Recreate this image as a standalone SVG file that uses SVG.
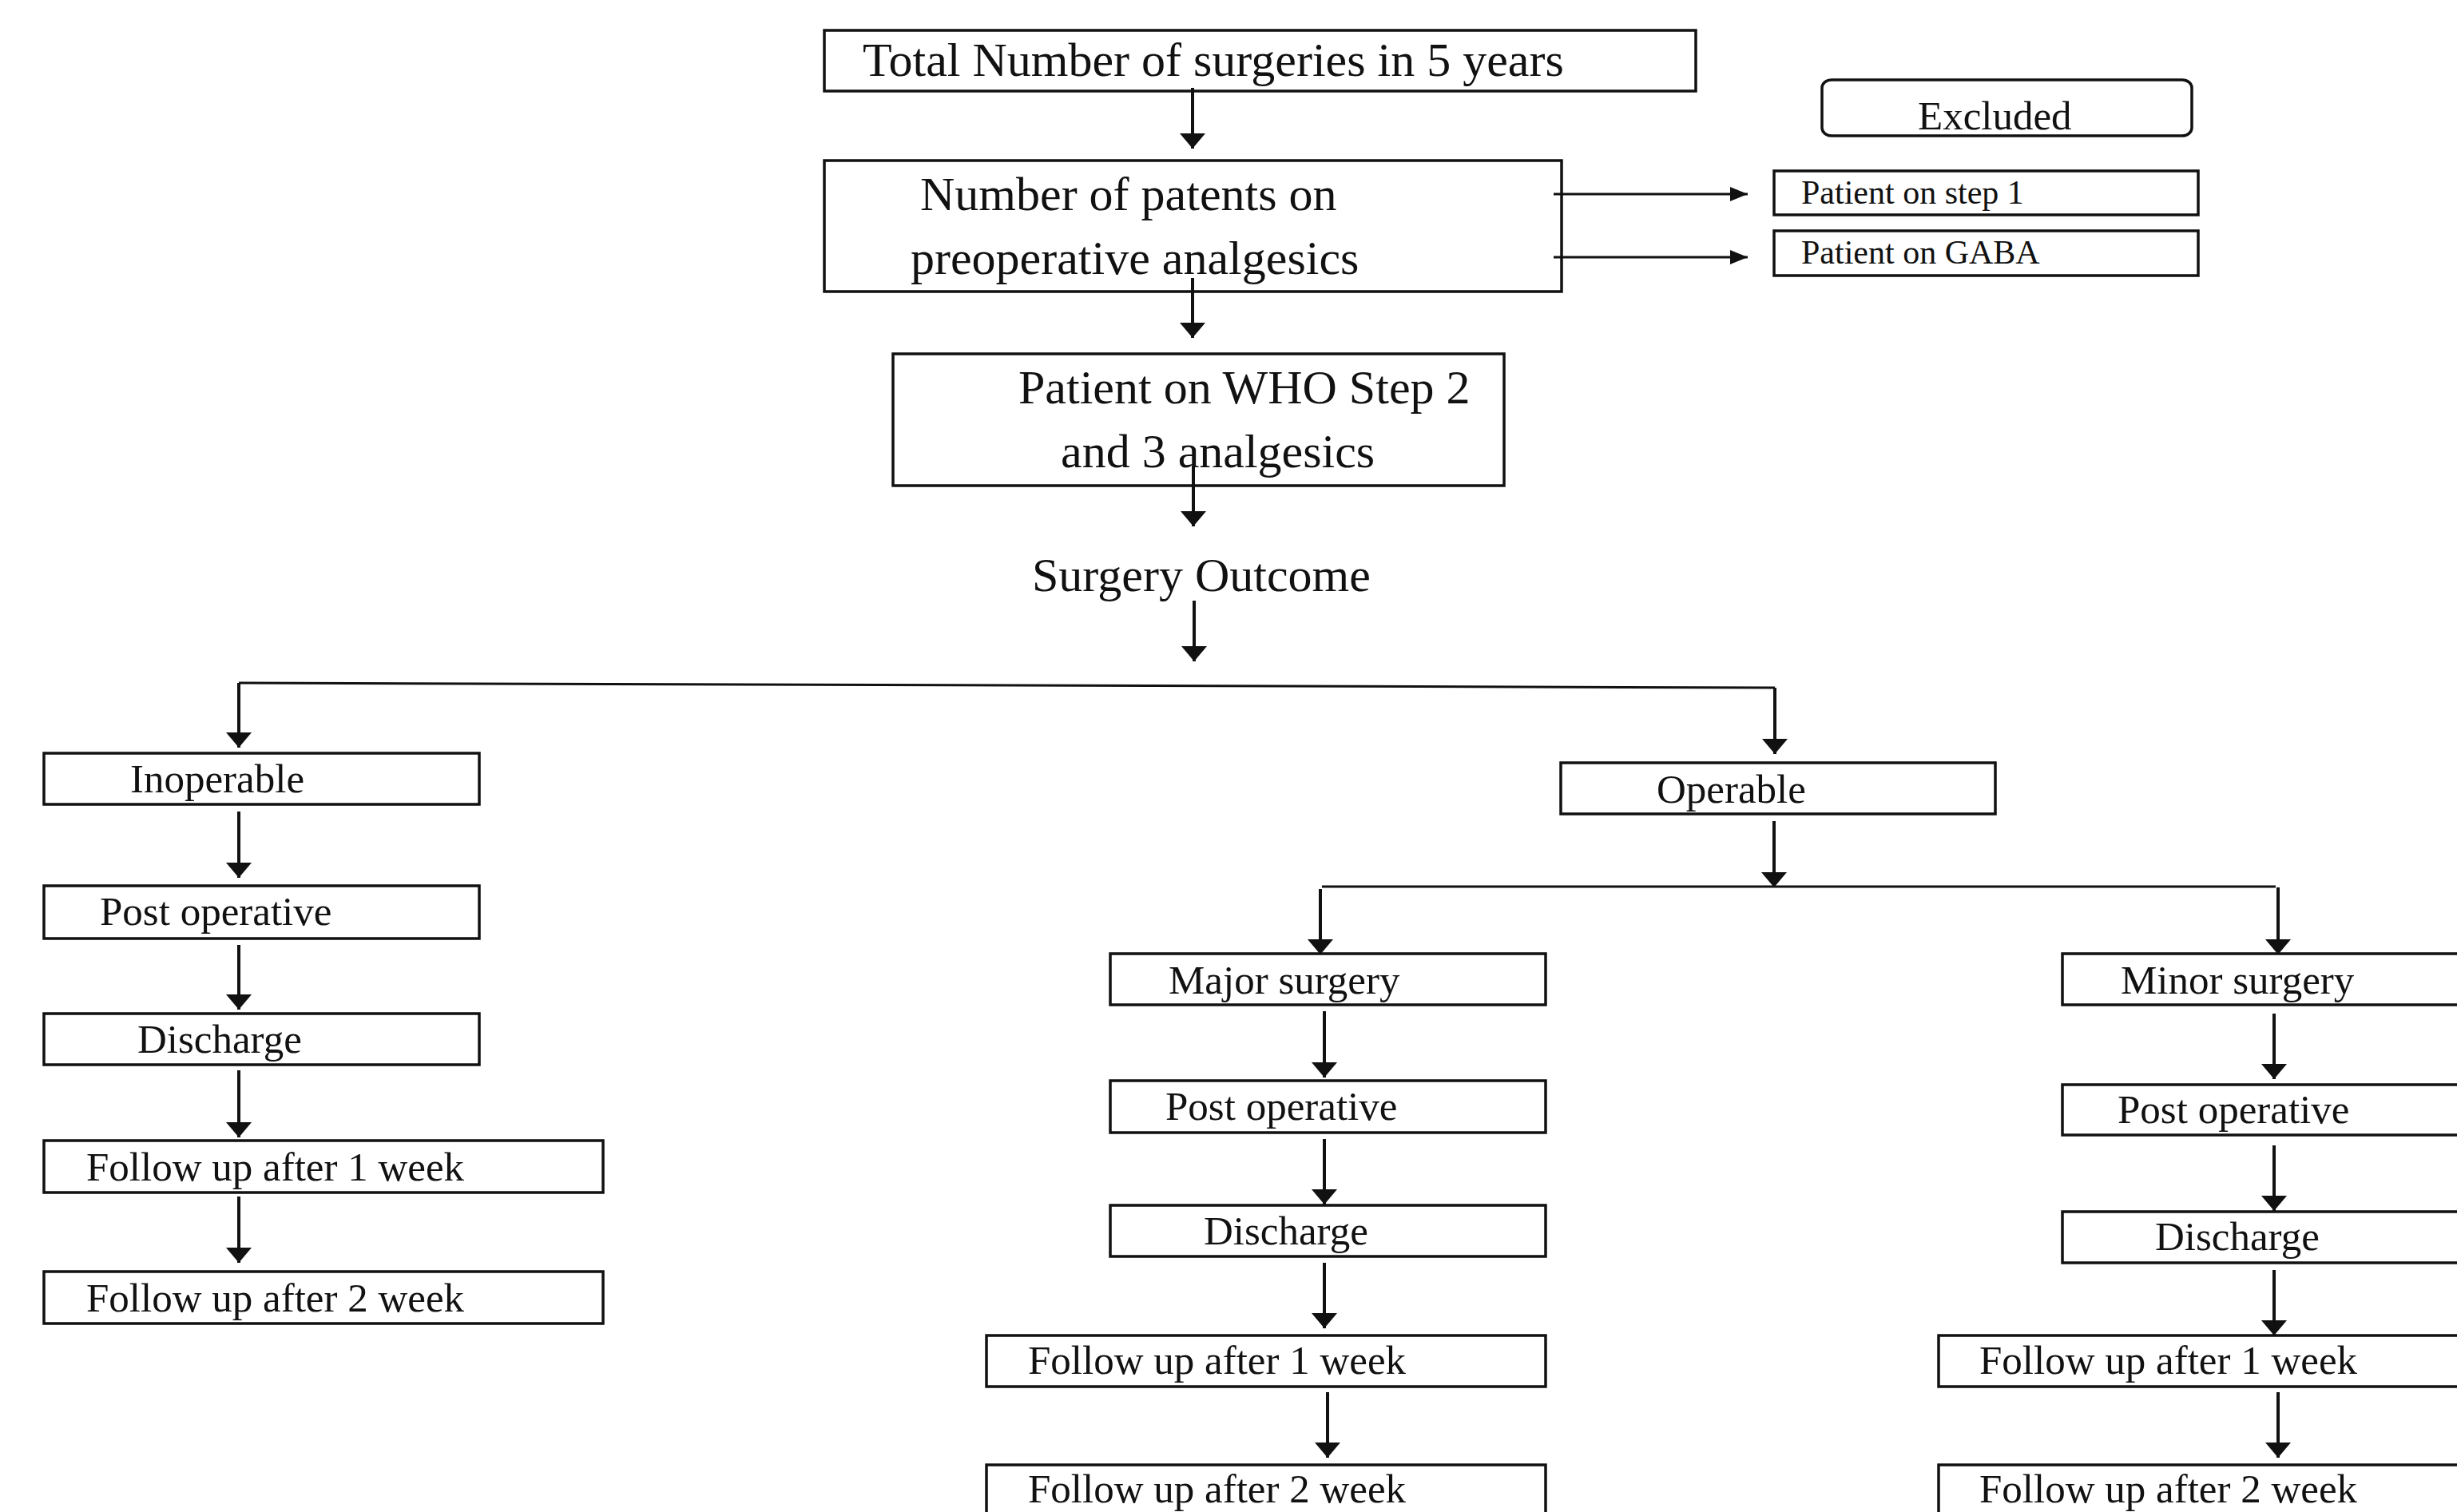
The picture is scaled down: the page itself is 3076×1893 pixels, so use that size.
<svg xmlns="http://www.w3.org/2000/svg" width="3076" height="1893" viewBox="0 0 3076 1893">
<style>
.box{fill:#fff;stroke:#111;stroke-width:3.5}
.t{font-family:"Liberation Serif","Times New Roman",serif;fill:#111}
.big{font-size:60px}
.mid{font-size:51px}
.sm{font-size:42px}
.c{fill:none;stroke:#111;stroke-width:4}
.cs{fill:none;stroke:#111;stroke-width:3}
</style>
<defs>
<marker id="ah" markerUnits="userSpaceOnUse" viewBox="0 0 19 32" refX="19" refY="16" markerWidth="19" markerHeight="32" orient="auto">
<path d="M0,0 L19,16 L0,32 Z" fill="#111"/>
</marker>
<marker id="ahs" markerUnits="userSpaceOnUse" viewBox="0 0 22 18" refX="22" refY="9" markerWidth="22" markerHeight="18" orient="auto">
<path d="M0,0 L22,9 L0,18 Z" fill="#111"/>
</marker>
</defs>
<rect width="3076" height="1893" fill="#fff"/>

<g id="n-total"><rect class="box" x="1032" y="38" width="1091" height="76"/><text class="t big" x="1080" y="95">Total Number of surgeries in 5 years</text></g>
<g id="n-preop"><rect class="box" x="1032" y="201" width="923" height="164"/><text class="t big" x="1152" y="263">Number of patents on</text><text class="t big" x="1140" y="343">preoperative analgesics</text></g>
<g id="n-excluded"><rect class="box" x="2281" y="100" width="463" height="70" rx="12" ry="10"/><text class="t mid" x="2401" y="162">Excluded</text></g>
<g id="n-step1"><rect class="box" x="2221" y="214" width="531" height="55"/><text class="t sm" x="2255" y="255">Patient on step 1</text></g>
<g id="n-gaba"><rect class="box" x="2221" y="289" width="531" height="56"/><text class="t sm" x="2255" y="330">Patient on GABA</text></g>
<g id="n-who"><rect class="box" x="1118" y="443" width="765" height="165"/><text class="t big" x="1275" y="505">Patient on WHO Step 2</text><text class="t big" x="1328" y="585">and 3 analgesics</text></g>
<g id="n-outcome"><text class="t big" x="1292" y="740">Surgery Outcome</text></g>

<g id="n-inoperable"><rect class="box" x="55" y="943" width="545" height="64"/><text class="t mid" x="163" y="992">Inoperable</text></g>
<g id="n-l-postop"><rect class="box" x="55" y="1109" width="545" height="66"/><text class="t mid" x="125" y="1158">Post operative</text></g>
<g id="n-l-discharge"><rect class="box" x="55" y="1269" width="545" height="64"/><text class="t mid" x="172" y="1318">Discharge</text></g>
<g id="n-l-fu1"><rect class="box" x="55" y="1428" width="700" height="65"/><text class="t mid" x="108" y="1478">Follow up after 1 week</text></g>
<g id="n-l-fu2"><rect class="box" x="55" y="1592" width="700" height="65"/><text class="t mid" x="108" y="1642">Follow up after 2 week</text></g>

<g id="n-operable"><rect class="box" x="1954" y="955" width="544" height="64"/><text class="t mid" x="2074" y="1005">Operable</text></g>

<g id="n-major"><rect class="box" x="1390" y="1194" width="545" height="64"/><text class="t mid" x="1463" y="1244">Major surgery</text></g>
<g id="n-m-postop"><rect class="box" x="1390" y="1353" width="545" height="65"/><text class="t mid" x="1459" y="1402">Post operative</text></g>
<g id="n-m-discharge"><rect class="box" x="1390" y="1509" width="545" height="64"/><text class="t mid" x="1507" y="1558">Discharge</text></g>
<g id="n-m-fu1"><rect class="box" x="1235" y="1672" width="700" height="64"/><text class="t mid" x="1287" y="1720">Follow up after 1 week</text></g>
<g id="n-m-fu2"><rect class="box" x="1235" y="1834" width="700" height="70"/><text class="t mid" x="1287" y="1881">Follow up after 2 week</text></g>

<g id="n-minor"><rect class="box" x="2582" y="1194" width="510" height="64"/><text class="t mid" x="2655" y="1244">Minor surgery</text></g>
<g id="n-r-postop"><rect class="box" x="2582" y="1358" width="510" height="63"/><text class="t mid" x="2651" y="1406">Post operative</text></g>
<g id="n-r-discharge"><rect class="box" x="2582" y="1517" width="510" height="64"/><text class="t mid" x="2698" y="1565">Discharge</text></g>
<g id="n-r-fu1"><rect class="box" x="2427" y="1672" width="665" height="64"/><text class="t mid" x="2478" y="1720">Follow up after 1 week</text></g>
<g id="n-r-fu2"><rect class="box" x="2427" y="1834" width="665" height="70"/><text class="t mid" x="2478" y="1881">Follow up after 2 week</text></g>

<g id="connectors">
<line class="c" x1="1493" y1="110" x2="1493" y2="186" marker-end="url(#ah)"/>
<line class="c" x1="1493" y1="348" x2="1493" y2="423" marker-end="url(#ah)"/>
<line class="c" x1="1494" y1="583" x2="1494" y2="659" marker-end="url(#ah)"/>
<line class="c" x1="1495" y1="752" x2="1495" y2="828" marker-end="url(#ah)"/>
<line class="cs" x1="1945" y1="243" x2="2188" y2="243" marker-end="url(#ahs)"/>
<line class="cs" x1="1945" y1="322" x2="2188" y2="322" marker-end="url(#ahs)"/>
<polyline class="cs" points="299,855 2222,861"/>
<line class="c" x1="299" y1="855" x2="299" y2="936" marker-end="url(#ah)"/>
<line class="c" x1="2222" y1="861" x2="2222" y2="944" marker-end="url(#ah)"/>
<line class="c" x1="299" y1="1016" x2="299" y2="1099" marker-end="url(#ah)"/>
<line class="c" x1="299" y1="1183" x2="299" y2="1264" marker-end="url(#ah)"/>
<line class="c" x1="299" y1="1340" x2="299" y2="1424" marker-end="url(#ah)"/>
<line class="c" x1="299" y1="1498" x2="299" y2="1581" marker-end="url(#ah)"/>
<line class="c" x1="2221" y1="1028" x2="2221" y2="1111" marker-end="url(#ah)"/>
<polyline class="cs" points="1655,1110 2849,1110"/>
<line class="c" x1="1653" y1="1113" x2="1653" y2="1195" marker-end="url(#ah)"/>
<line class="c" x1="2852" y1="1111" x2="2852" y2="1195" marker-end="url(#ah)"/>
<line class="c" x1="1658" y1="1266" x2="1658" y2="1349" marker-end="url(#ah)"/>
<line class="c" x1="1658" y1="1426" x2="1658" y2="1508" marker-end="url(#ah)"/>
<line class="c" x1="1658" y1="1581" x2="1658" y2="1663" marker-end="url(#ah)"/>
<line class="c" x1="1662" y1="1743" x2="1662" y2="1825" marker-end="url(#ah)"/>
<line class="c" x1="2847" y1="1269" x2="2847" y2="1351" marker-end="url(#ah)"/>
<line class="c" x1="2847" y1="1434" x2="2847" y2="1516" marker-end="url(#ah)"/>
<line class="c" x1="2847" y1="1590" x2="2847" y2="1672" marker-end="url(#ah)"/>
<line class="c" x1="2852" y1="1743" x2="2852" y2="1825" marker-end="url(#ah)"/>
</g>
</svg>
